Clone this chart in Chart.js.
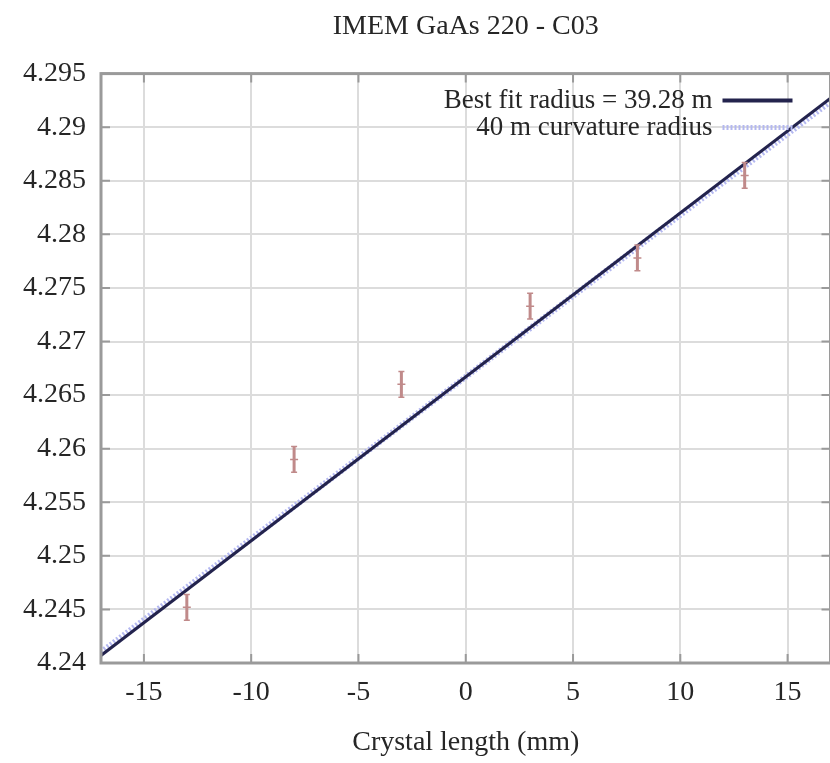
<!DOCTYPE html>
<html>
<head>
<meta charset="utf-8">
<script src="https://cdn.jsdelivr.net/npm/chart.js@4.4.1/dist/chart.umd.min.js"></script>
<style>
  html, body { margin: 0; padding: 0; background: #fff; overflow: hidden; }
  #wrap { width: 830px; height: 763px; overflow: hidden; }
</style>
</head>
<body>
<div id="wrap"><canvas id="radiusChart" width="836" height="763"></canvas></div>
<script>
// Measured points (crystal length in mm vs d-spacing-ish value)
const posMm = [-13, -8, -3, 3, 8, 13];
const measured = [4.2452, 4.2590, 4.2660, 4.2733, 4.2778, 4.2855];
const errHalf = [0.0012, 0.0012, 0.0012, 0.0012, 0.0012, 0.0012];

// Line end points at the x range limits
const lineX = [-17, 17];
const bestFit = [4.2407, 4.2927];
const curv40 = [4.2410, 4.2924];

const xTicks = [-15, -10, -5, 0, 5, 10, 15];
const yTicks = [4.24, 4.245, 4.25, 4.255, 4.26, 4.265, 4.27, 4.275, 4.28, 4.285, 4.29, 4.295];
const yTickLabels = ['4.24', '4.245', '4.25', '4.255', '4.26', '4.265', '4.27', '4.275', '4.28', '4.285', '4.29', '4.295'];

const serif = '"Liberation Serif", "DejaVu Serif", serif';
const textCol = '#262626';

// white background + gnuplot-like frame with inward ticks
const framePlugin = {
    id: 'frame',
    beforeDraw(chart) {
        const c = chart.ctx;
        c.save();
        c.fillStyle = '#fff';
        c.fillRect(0, 0, chart.width, chart.height);
        c.restore();
    },
    afterDatasetsDraw(chart) {
        const c = chart.ctx;
        const a = chart.chartArea;
        const xs = chart.scales.x, ys = chart.scales.y;
        c.save();
        c.strokeStyle = '#9a9a9a';
        c.lineWidth = 2;
        xTicks.forEach(v => {
            const px = xs.getPixelForValue(v);
            c.beginPath();
            c.moveTo(px, a.bottom); c.lineTo(px, a.bottom - 9);
            c.moveTo(px, a.top); c.lineTo(px, a.top + 9);
            c.stroke();
        });
        yTicks.forEach(v => {
            const py = ys.getPixelForValue(v);
            c.beginPath();
            c.moveTo(a.left, py); c.lineTo(a.left + 9, py);
            c.moveTo(a.right, py); c.lineTo(a.right - 9, py);
            c.stroke();
        });
        c.lineWidth = 3;
        c.strokeRect(a.left, a.top, a.right - a.left, a.bottom - a.top);
        c.restore();
    }
};

// vertical error bars for the measured points
const errorBars = {
    id: 'errorBars',
    afterDatasetsDraw(chart) {
        const c = chart.ctx;
        const xs = chart.scales.x, ys = chart.scales.y;
        c.save();
        c.strokeStyle = '#c08a8a';
        c.lineWidth = 3;
        posMm.forEach((x, i) => {
            const px = xs.getPixelForValue(x);
            const top = ys.getPixelForValue(measured[i] + errHalf[i]);
            const bot = ys.getPixelForValue(measured[i] - errHalf[i]);
            c.beginPath();
            c.moveTo(px, top); c.lineTo(px, bot);
            c.stroke();
            c.lineWidth = 1.5;
            c.beginPath();
            c.moveTo(px - 3, top); c.lineTo(px + 3, top);
            c.moveTo(px - 3, bot); c.lineTo(px + 3, bot);
            c.stroke();
            c.lineWidth = 3;
        });
        c.restore();
    }
};

// legend in the top right corner, text right-aligned before the sample
const cornerLegend = {
    id: 'cornerLegend',
    afterDraw(chart) {
        const c = chart.ctx;
        const a = chart.chartArea;
        const entries = [chart.data.datasets[1], chart.data.datasets[0]];
        c.save();
        c.font = '27px ' + serif;
        c.fillStyle = textCol;
        c.textAlign = 'right';
        c.textBaseline = 'middle';
        entries.forEach((ds, i) => {
            const y = a.top + 27 + i * 27;
            c.fillText(ds.label, a.right - 118, y);
            c.beginPath();
            c.strokeStyle = ds.borderColor;
            c.lineWidth = i === 0 ? 4 : 5;
            c.setLineDash(ds.borderDash || []);
            c.moveTo(a.right - 108, y);
            c.lineTo(a.right - 38, y);
            c.stroke();
        });
        c.restore();
    }
};

const ctx = document.getElementById('radiusChart');
new Chart(ctx, {
    type: 'scatter',
    data: {
        datasets: [{
            type: 'line',
            label: '40 m curvature radius',
            data: lineX.map((x, i) => ({ x: x, y: curv40[i] })),
            borderColor: '#b4b8f0',
            borderWidth: 6,
            borderDash: [2, 2],
            pointRadius: 0,
            order: 2
        }, {
            type: 'line',
            label: 'Best fit radius = 39.28 m',
            data: lineX.map((x, i) => ({ x: x, y: bestFit[i] })),
            borderColor: '#23234d',
            borderWidth: 3,
            pointRadius: 0,
            order: 1
        }, {
            label: 'data',
            data: posMm.map((x, i) => ({ x: x, y: measured[i] })),
            pointStyle: 'cross',
            pointRadius: 4,
            borderColor: '#c08a8a',
            borderWidth: 1.5,
            order: 3
        }]
    },
    options: {
        responsive: false,
        animation: false,
        layout: { padding: 0 },
        plugins: {
            legend: { display: false },
            tooltip: { enabled: false },
            title: {
                display: true,
                fullSize: false,
                text: 'IMEM GaAs 220 - C03',
                color: textCol,
                font: { family: serif, size: 28, weight: 'normal' },
                padding: { top: 10, bottom: 30 }
            }
        },
        scales: {
            x: {
                type: 'linear',
                min: -17,
                max: 17,
                afterBuildTicks: s => { s.ticks = xTicks.map(v => ({ value: v })); },
                afterFit: s => { s.height = 100; },
                grid: { color: '#dcdcdc', lineWidth: 2, drawTicks: false },
                border: { display: false },
                ticks: {
                    color: textCol,
                    padding: 13,
                    font: { family: serif, size: 28 },
                    callback: v => String(v)
                },
                title: {
                    display: true,
                    text: 'Crystal length (mm)',
                    color: textCol,
                    font: { family: serif, size: 28 },
                    padding: { top: 6 }
                }
            },
            y: {
                min: 4.24,
                max: 4.295,
                afterBuildTicks: s => { s.ticks = yTicks.map(v => ({ value: v })); },
                afterFit: s => { s.width = 101; },
                grid: { color: '#dcdcdc', lineWidth: 2, drawTicks: false },
                border: { display: false },
                ticks: {
                    color: textCol,
                    padding: 15,
                    font: { family: serif, size: 28 },
                    callback: (v, i) => yTickLabels[i]
                }
            }
        }
    },
    plugins: [framePlugin, errorBars, cornerLegend]
});
</script>
</body>
</html>
